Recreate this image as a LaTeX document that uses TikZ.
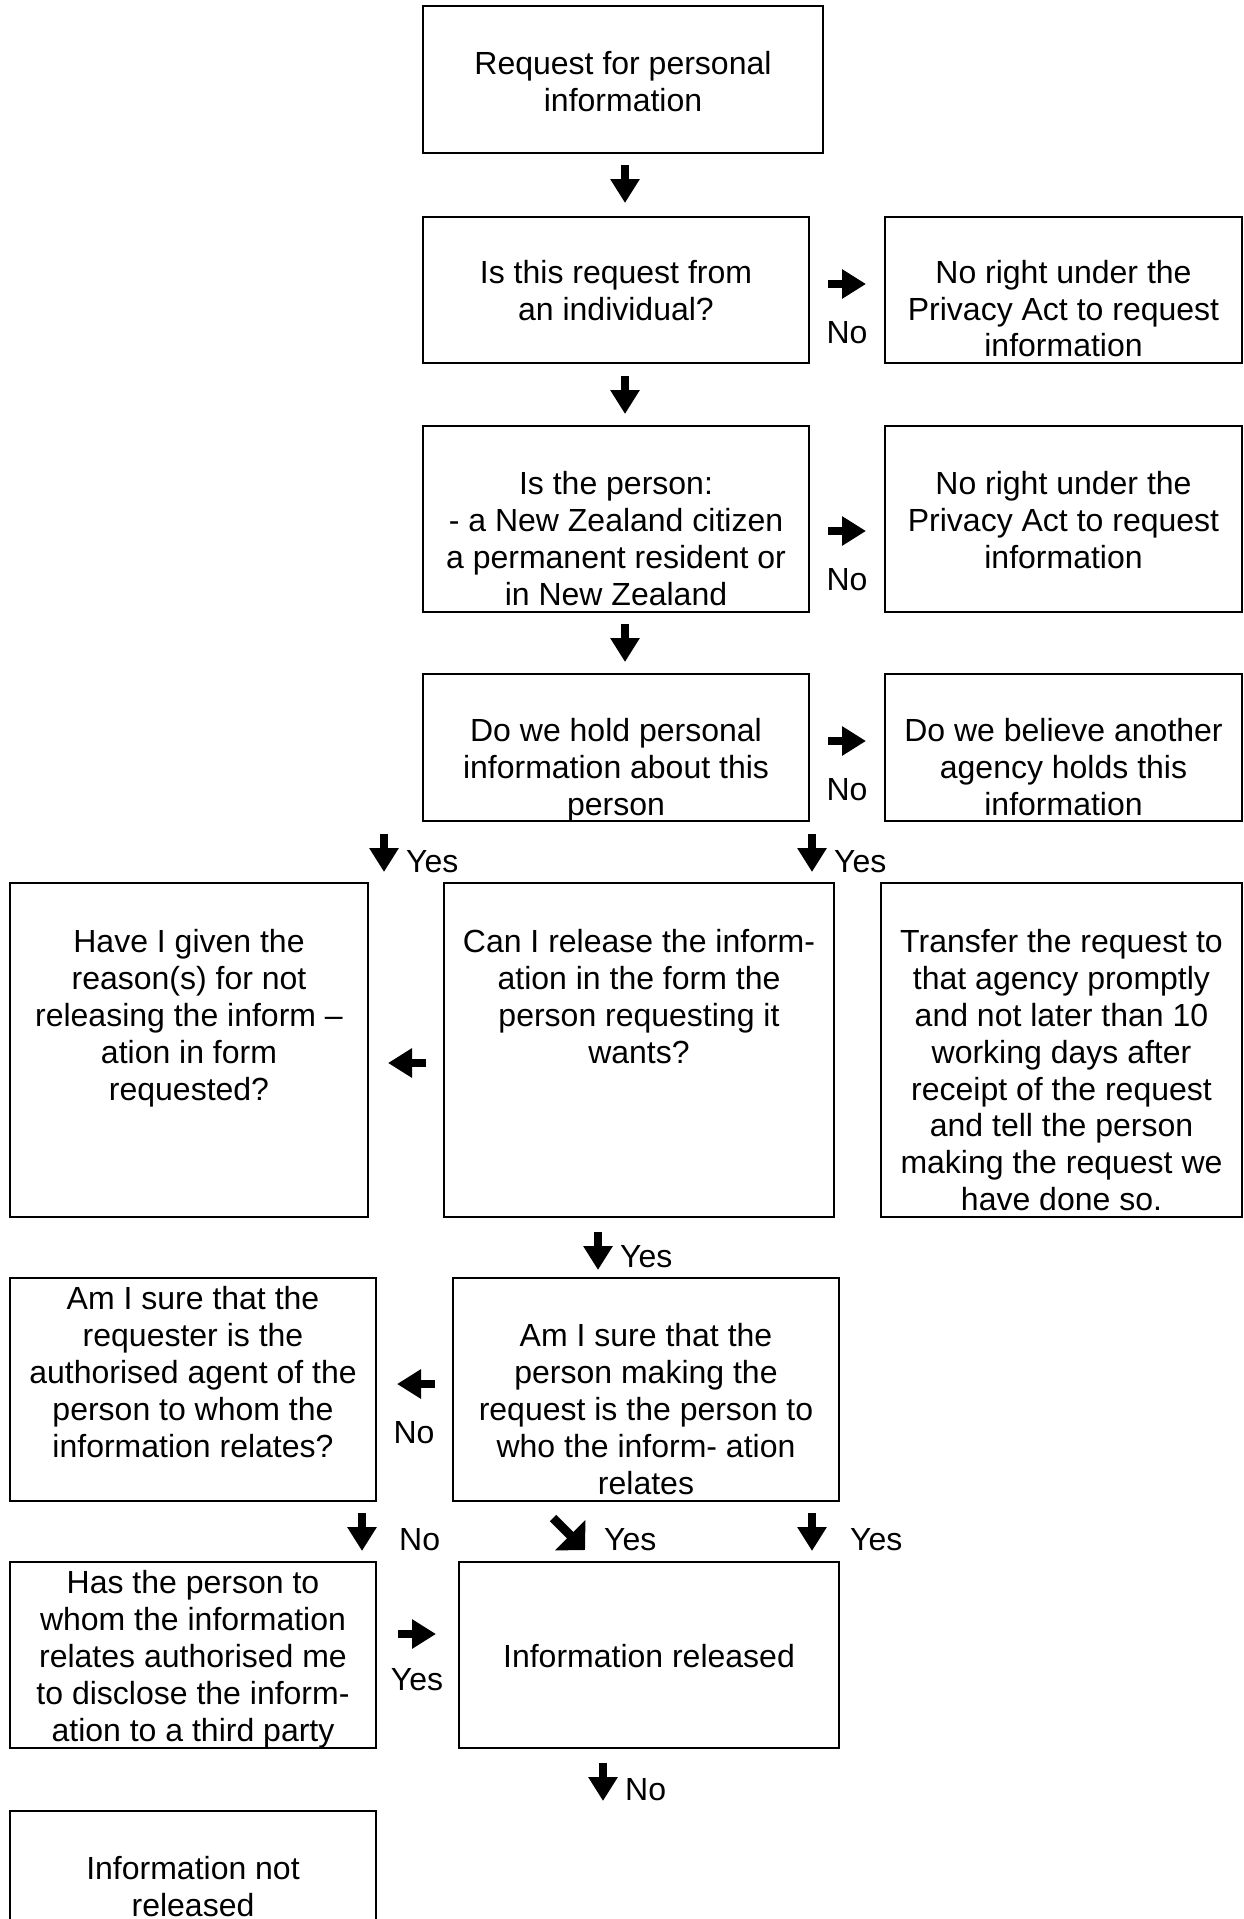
\documentclass[tikz,border=0pt]{standalone}
\usepackage{fontspec}
\setmainfont{Liberation Sans}
\usetikzlibrary{arrows.meta}
\tikzset{
  box/.style={draw, line width=2pt, inner sep=0pt},
  txt/.style={align=center, inner sep=0pt, font=\fontsize{32}{36.8}\selectfont},
  lbl/.style={inner sep=0pt, font=\fontsize{32}{36.8}\selectfont},
  blk/.style={line width=8pt, -{Triangle[width=28pt,length=24pt]}},
  blkdiag/.style={line width=9pt, -{Triangle[width=42pt,length=21pt]}}
}
\begin{document}
\begin{tikzpicture}[x=1pt,y=-1pt]
\useasboundingbox (0,0) rectangle (1243,1919);
\clip (0,0) rectangle (1243,1919);
\fill[white] (0,0) rectangle (1243,1919);
% boxes
\node[box, minimum width=400, minimum height=147] (b1) at (623,79.5) {};
\node[box, minimum width=386, minimum height=146] (b2) at (616,290) {};
\node[box, minimum width=357, minimum height=146] (b2r) at (1063.5,290) {};
\node[box, minimum width=386, minimum height=186] (b3) at (616,519) {};
\node[box, minimum width=357, minimum height=186] (b3r) at (1063.5,519) {};
\node[box, minimum width=386, minimum height=147] (b4) at (616,747.5) {};
\node[box, minimum width=357, minimum height=147] (b4r) at (1063.5,747.5) {};
\node[box, minimum width=358, minimum height=334] (b5l) at (189,1050) {};
\node[box, minimum width=390, minimum height=334] (b5m) at (639,1050) {};
\node[box, minimum width=361, minimum height=334] (b5r) at (1061.5,1050) {};
\node[box, minimum width=366, minimum height=223] (b6l) at (193,1389.5) {};
\node[box, minimum width=386, minimum height=223] (b6m) at (646,1389.5) {};
\node[box, minimum width=366, minimum height=186] (b7l) at (193,1655) {};
\node[box, minimum width=380, minimum height=186] (b7m) at (649,1655) {};
\node[box, minimum width=366, minimum height=124] (b8) at (193,1873) {};
% texts
\node[txt, anchor=north] (t1) at (623,51) {Request for personal\\information};
\node[txt, anchor=north] (t2) at (616,260) {Is this request from\\an individual?};
\node[txt, anchor=north] (t2r) at (1063.5,260) {No right under the\\Privacy Act to request\\information};
\node[txt, anchor=north] (t3) at (616,471.5) {Is the person:\\- a New Zealand citizen\\a permanent resident or\\in New Zealand};
\node[txt, anchor=north] (t3r) at (1063.5,471.5) {No right under the\\Privacy Act to request\\information};
\node[txt, anchor=north] (t4) at (616,718.5) {Do we hold personal\\information about this\\person};
\node[txt, anchor=north] (t4r) at (1063.5,718.5) {Do we believe another\\agency holds this\\information};
\node[txt, anchor=north] (t5l) at (189,929.5) {Have I given the\\reason(s) for not\\releasing the inform --\\ation in form\\requested?};
\node[txt, anchor=north] (t5m) at (639,929.5) {Can I release the inform-\\ation in the form the\\person requesting it\\wants?};
\node[txt, anchor=north] (t5r) at (1061.5,929.5) {Transfer the request to\\that agency promptly\\and not later than 10\\working days after\\receipt of the request\\and tell the person\\making the request we\\have done so.};
\node[txt, anchor=north] (t6l) at (193,1286.5) {Am I sure that the\\requester is the\\authorised agent of the\\person to whom the\\information relates?};
\node[txt, anchor=north] (t6m) at (646,1323.5) {Am I sure that the\\person making the\\request is the person to\\who the inform- ation\\relates};
\node[txt, anchor=north] (t7l) at (193,1570.5) {Has the person to\\whom the information\\relates authorised me\\to disclose the inform-\\ation to a third party};
\node[txt, anchor=north] (t7m) at (649,1644.5) {Information released};
\node[txt, anchor=north] (t8) at (193,1856.5) {Information not\\released};
% arrow end points
\coordinate (a1s) at (625,165);   \coordinate (a1e) at (625,203);
\coordinate (a2s) at (828,284);   \coordinate (a2e) at (866,284);
\coordinate (a3s) at (625,376);   \coordinate (a3e) at (625,414);
\coordinate (a4s) at (828,531);   \coordinate (a4e) at (866,531);
\coordinate (a5s) at (625,624);   \coordinate (a5e) at (625,662);
\coordinate (a6s) at (828,741);   \coordinate (a6e) at (866,741);
\coordinate (a7s) at (384,834);   \coordinate (a7e) at (384,872);
\coordinate (a8s) at (812,834);   \coordinate (a8e) at (812,872);
\coordinate (a9s) at (426,1063);  \coordinate (a9e) at (388,1063);
\coordinate (a10s) at (598,1232); \coordinate (a10e) at (598,1270);
\coordinate (a11s) at (435,1384); \coordinate (a11e) at (397,1384);
\coordinate (a12s) at (362,1513); \coordinate (a12e) at (362,1551);
\coordinate (a13s) at (553,1518); \coordinate (a13e) at (585,1550);
\coordinate (a14s) at (812,1513); \coordinate (a14e) at (812,1551);
\coordinate (a15s) at (398,1634); \coordinate (a15e) at (436,1634);
\coordinate (a16s) at (603,1763); \coordinate (a16e) at (603,1801);
% arrows
\foreach \i in {1,2,3,4,5,6,7,8,9,10,11,12,14,15,16}
  \draw[blk] (a\i s) -- (a\i e);
\draw[blkdiag] (a13s) -- (a13e);
% labels
\node[lbl] (l2) at (847,333) {No};
\node[lbl] (l4) at (847,580) {No};
\node[lbl] (l6) at (847,790) {No};
\node[lbl, anchor=west] (l7) at (406,862) {Yes};
\node[lbl, anchor=west] (l8) at (834,862) {Yes};
\node[lbl, anchor=west] (l10) at (620,1257) {Yes};
\node[lbl] (l11) at (414,1433) {No};
\node[lbl, anchor=west] (l12) at (399,1540) {No};
\node[lbl, anchor=west] (l13) at (604,1540) {Yes};
\node[lbl, anchor=west] (l14) at (850,1540) {Yes};
\node[lbl] (l15) at (417,1680) {Yes};
\node[lbl, anchor=west] (l16) at (625,1790) {No};
\end{tikzpicture}
\end{document}
